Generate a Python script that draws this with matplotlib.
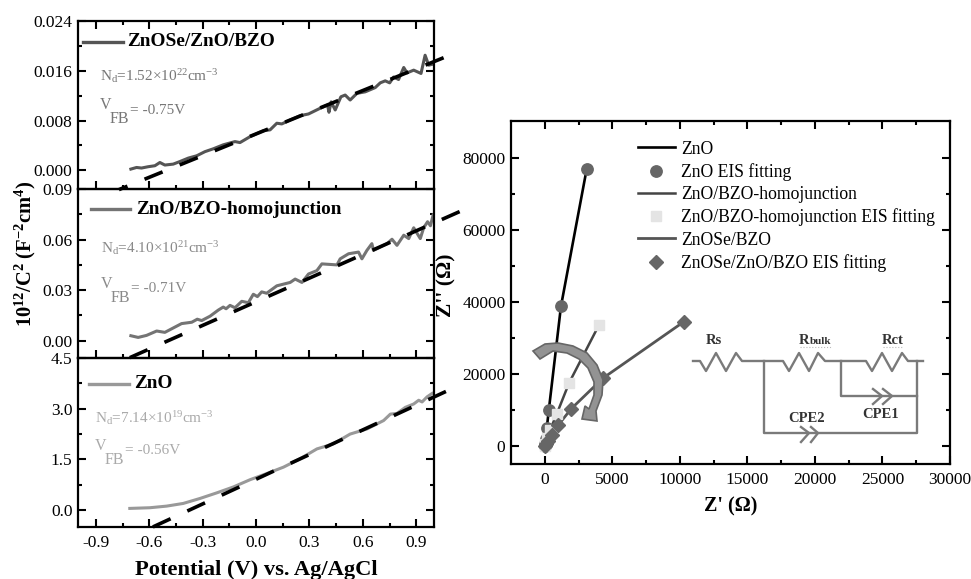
import matplotlib
matplotlib.use("Agg")
import matplotlib.pyplot as plt
from matplotlib.lines import Line2D
from matplotlib.patches import Polygon

plt.rcParams["font.family"] = ["Liberation Serif", "DejaVu Serif"]
plt.rcParams["mathtext.fontset"] = "custom"
plt.rcParams["mathtext.rm"] = "Liberation Serif"
plt.rcParams["mathtext.bf"] = "Liberation Serif:bold"
plt.rcParams["mathtext.it"] = "Liberation Serif:italic"

# Mott-Schottky curves
zse_x = [-0.703, -0.671, -0.643, -0.606, -0.568, -0.54, -0.512, -0.465, -0.427, -0.38, -0.333, -0.287,
         -0.24, -0.184, -0.118, -0.09, -0.033, 0.042, 0.079, 0.117, 0.145, 0.192, 0.248, 0.295, 0.36,
         0.402, 0.41, 0.422, 0.445, 0.477, 0.501, 0.529, 0.567, 0.614, 0.67, 0.698, 0.726, 0.751, 0.773,
         0.801, 0.83, 0.848, 0.886, 0.927, 0.95, 0.97, 1.0]
zse_y = [0.0002, 0.00046, 0.00037, 0.00058, 0.00074, 0.00126, 0.00085, 0.001, 0.00142, 0.00197, 0.00234, 0.003,
         0.00346, 0.0041, 0.00462, 0.00446, 0.00542, 0.00638, 0.0065, 0.00757, 0.00746, 0.0081, 0.00878, 0.00906, 0.00997,
         0.0105, 0.00933, 0.011, 0.0097, 0.01182, 0.0121, 0.0113, 0.01237, 0.01262, 0.0133, 0.01406, 0.01438, 0.01406, 0.015,
         0.0146, 0.01653, 0.01566, 0.0161, 0.01557, 0.0185, 0.0169, 0.0171]
zse_fit_x = [1.054, -0.77]
zse_fit_y = [0.0181, -0.0031]

hom_x = [-0.703, -0.662, -0.615, -0.558, -0.512, -0.418, -0.361, -0.33, -0.305, -0.258, -0.212, -0.184,
         -0.168, -0.146, -0.118, -0.08, -0.043, -0.015, 0.008, 0.032, 0.06, 0.117, 0.192, 0.22, 0.258,
         0.295, 0.342, 0.37, 0.455, 0.473, 0.52, 0.576, 0.595, 0.623, 0.651, 0.66, 0.736, 0.764, 0.792,
         0.83, 0.858, 0.886, 0.923, 0.942, 0.964, 0.98, 0.995]
hom_y = [0.003, 0.002, 0.0032, 0.0058, 0.005, 0.0102, 0.011, 0.0128, 0.012, 0.0146, 0.0182, 0.02,
         0.019, 0.021, 0.0196, 0.0234, 0.0226, 0.0276, 0.0262, 0.029, 0.0282, 0.0326, 0.0346, 0.0366, 0.0346,
         0.0396, 0.0416, 0.0456, 0.045, 0.0486, 0.0516, 0.0526, 0.0486, 0.0536, 0.0576, 0.0536, 0.0576, 0.0602, 0.0566,
         0.0626, 0.0606, 0.067, 0.0606, 0.067, 0.0706, 0.0682, 0.0746]
hom_fit_x = [1.144, -0.709]
hom_fit_y = [0.0766, -0.01]

zno_x = [-0.709, -0.596, -0.502, -0.409, -0.315, -0.221, -0.127, -0.033, 0.06, 0.154, 0.248, 0.342,
         0.435, 0.529, 0.623, 0.717, 0.755, 0.792, 0.839, 0.886, 0.914, 0.933, 0.961, 0.989]
zno_y = [0.05, 0.07, 0.118, 0.197, 0.344, 0.509, 0.685, 0.90, 1.08, 1.27, 1.52, 1.81,
         1.96, 2.25, 2.40, 2.65, 2.84, 2.86, 3.04, 3.14, 3.25, 3.20, 3.35, 3.45]
zno_fit_x = [1.067, -0.58]
zno_fit_y = [3.51, -0.5]

pot_ticks = [-0.9, -0.6, -0.3, 0.0, 0.3, 0.6, 0.9]
pot_labels = ["-0.9", "-0.6", "-0.3", "0.0", "0.3", "0.6", "0.9"]

# Nyquist points
eis_zno_re = [3100, 1200, 300, 150, 60, 20, 0]
eis_zno_im = [76800, 38800, 10000, 5000, 2000, 500, 0]
eis_hom_re = [4000, 1800, 900, 400, 200, 50, 0]
eis_hom_im = [33500, 17500, 9000, 4500, 2200, 500, 0]
eis_zse_re = [10300, 4300, 1950, 1000, 500, 250, 100, 0]
eis_zse_im = [34500, 18800, 10300, 5800, 3000, 1500, 500, 0]

W, H = 971, 579
fig = plt.figure(figsize=(W / 100, H / 100), dpi=100)


def px_axes(left, top, right, bottom):
    return fig.add_axes([left / W, 1 - bottom / H, (right - left) / W, (bottom - top) / H])


def style_axes(ax, top_ticks=False):
    for s in ax.spines.values():
        s.set_linewidth(1.6)
    ax.patch.set_visible(False)
    ax.tick_params(which="major", direction="in", length=5.5, width=1.5, labelsize=12.5, top=top_ticks, right=True, pad=4)
    ax.tick_params(which="minor", direction="in", length=3, width=1.5, top=top_ticks, right=True)
    ax.tick_params(axis="x", which="major", pad=6)


# --- left panels ---
panels = [
    (px_axes(78, 21, 434, 189), zse_x, zse_y, zse_fit_x, zse_fit_y, "#555555",
     (-0.003, 0.024), [0, 0.008, 0.016, 0.024], ["0.000", "0.008", "0.016", "0.024"], [0.004, 0.012, 0.02]),
    (px_axes(78, 189, 434, 358), hom_x, hom_y, hom_fit_x, hom_fit_y, "#747474",
     (-0.0102, 0.09), [0, 0.03, 0.06, 0.09], ["0.00", "0.03", "0.06", "0.09"], [0.015, 0.045, 0.075]),
    (px_axes(78, 358, 434, 527), zno_x, zno_y, zno_fit_x, zno_fit_y, "#999999",
     (-0.5, 4.5), [0, 1.5, 3.0, 4.5], ["0.0", "1.5", "3.0", "4.5"], [0.75, 2.25, 3.75]),
]
for i, (ax, x, y, fx, fy, col, ylim, yt, ylab, ym) in enumerate(panels):
    ax.plot(x, y, color=col, lw=2.2, solid_joinstyle="round")
    ax.plot(fx, fy, color="black", lw=2.6, linestyle=(0, (5.4, 5.1)), clip_on=False)
    ax.set_xlim(-1, 1)
    ax.set_ylim(*ylim)
    ax.set_yticks(yt)
    ax.set_yticklabels(ylab)
    ax.set_yticks(ym, minor=True)
    ax.set_xticks(pot_ticks)
    ax.set_xticks([-0.75, -0.45, -0.15, 0.15, 0.45, 0.75], minor=True)
    style_axes(ax, top_ticks=(i == 0))
    if i < 2:
        ax.set_xticklabels([])
    else:
        ax.set_xticklabels(pot_labels)
        ax.set_xlabel("Potential (V) vs. Ag/AgCl", fontsize=16.2, fontweight="bold", labelpad=6)

# --- Nyquist panel ---
ax = px_axes(511, 121, 950, 464)
ax.plot(eis_zno_re, eis_zno_im, color="black", lw=1.9)
ax.plot(eis_hom_re, eis_hom_im, color="#444444", lw=1.8)
ax.plot(eis_zse_re, eis_zse_im, color="#555555", lw=2.0)
ax.plot(eis_zno_re, eis_zno_im, "o", color="#666666", ms=8.2, ls="none")
ax.plot(eis_hom_re, eis_hom_im, "s", color="#e4e4e4", ms=7.2, ls="none")
ax.plot(eis_zse_re, eis_zse_im, "D", color="#666666", ms=7.4, ls="none")
ax.set_xlim(-2500, 30000)
ax.set_ylim(-5000, 90200)
ax.set_xticks(range(0, 30001, 5000))
ax.set_xticks(range(2500, 30000, 5000), minor=True)
ax.set_yticks(range(0, 80001, 20000))
ax.set_yticks(range(10000, 80000, 20000), minor=True)
style_axes(ax, top_ticks=True)
ax.set_xlabel("Z' (Ω)", fontsize=14.5, fontweight="bold", labelpad=6)
ax.set_ylabel("Z'' (Ω)", fontsize=15.5, fontweight="bold")
ax.yaxis.set_label_coords(-0.125, 0.522)

handles = [
    Line2D([], [], color="black", lw=1.9),
    Line2D([], [], marker="o", color="#666666", ms=8.2, ls="none"),
    Line2D([], [], color="#444444", lw=1.8),
    Line2D([], [], marker="s", color="#e4e4e4", ms=7.2, ls="none"),
    Line2D([], [], color="#555555", lw=2.0),
    Line2D([], [], marker="D", color="#666666", ms=7.4, ls="none"),
]
names = ["ZnO", "ZnO EIS fitting", "ZnO/BZO-homojunction", "ZnO/BZO-homojunction EIS fitting",
         "ZnOSe/BZO", "ZnOSe/ZnO/BZO EIS fitting"]
ax.legend(handles, names, loc="upper left", bbox_to_anchor=(0.281, 0.953), frameon=False, fontsize=12.7,
          labelspacing=0.3, handlelength=2.1, handletextpad=0.35, borderaxespad=0, borderpad=0.2)

# --- overlay in pixel coordinates: labels, arrow and circuit ---
ov = fig.add_axes([0, 0, 1, 1], zorder=5)
ov.set_xlim(0, W)
ov.set_ylim(H, 0)
ov.axis("off")

ov.text(25, 254, r"$\mathbf{10^{12}/C^{2}\ (F^{-2}cm^{4})}$", rotation=90, fontsize=14.8, ha="center", va="center")

labels = [
    ("ZnOSe/ZnO/BZO", 83, 123, 127, 42, "#555555"),
    ("ZnO/BZO-homojunction", 91, 130, 136, 209, "#747474"),
    ("ZnO", 89, 129, 134, 384, "#999999"),
]
for txt, x0, x1, tx, ty, col in labels:
    ov.plot([x0, x1], [ty, ty], color=col, lw=2.4)
    ov.text(tx, ty, txt, fontsize=13.9, fontweight="bold", va="center")

notes = [
    (r"N$_{\mathrm{d}}$=1.52×10$^{22}$cm$^{-3}$", -0.75, 100, 76, 34, "#777777"),
    (r"N$_{\mathrm{d}}$=4.10×10$^{21}$cm$^{-3}$", -0.71, 101, 248, 41, "#8a8a8a"),
    (r"N$_{\mathrm{d}}$=7.14×10$^{19}$cm$^{-3}$", -0.56, 95, 418, 33, "#aaaaaa"),
]
for txt, vfb, x, y, dy, col in notes:
    ov.text(x, y, txt, fontsize=11, color=col, va="center")
    vy = y + dy
    ov.text(x, vy - 5, "V", fontsize=11.5, color=col, va="center")
    ov.text(x + 10, vy + 9, "FB", fontsize=11.5, color=col, va="center")
    ov.text(x + 30, vy, f"= {vfb:.2f}V", fontsize=11, color=col, va="center")

# curved arrow outline
arrow_x = [533, 545, 558, 573, 587, 597, 603, 602, 596, 597, 582, 585, 589, 594, 594, 588, 579, 567, 553, 540]
arrow_y = [351, 344, 343, 346, 353, 365, 380, 395, 411, 421, 419, 406, 409, 395, 382, 368, 359, 353, 351, 359]
ov.add_patch(Polygon(list(zip(arrow_x, arrow_y)), closed=True, facecolor="#939393", edgecolor="#666666", lw=1.2))

# equivalent circuit
wire = "#7a7a7a"
ov.plot([693, 700, 706, 716, 726, 736, 742, 783, 789, 799, 809, 818, 825, 866, 872, 882, 892, 902, 908, 923],
        [361, 361, 371, 353, 371, 353, 361, 361, 371, 353, 371, 353, 361, 361, 371, 353, 371, 353, 361, 361],
        color=wire, lw=1.7)
ov.plot([764, 764, 917, 917], [361, 433, 433, 361], color=wire, lw=1.7)
ov.plot([841, 841, 917], [361, 396, 396], color=wire, lw=1.7)
ov.plot([873, 882, 873], [389, 396, 404], color=wire, lw=1.7)
ov.plot([883, 892, 883], [389, 396, 404], color=wire, lw=1.7)
ov.plot([801, 809, 801], [427, 433, 442], color=wire, lw=1.7)
ov.plot([811, 818, 811], [427, 433, 442], color=wire, lw=1.7)
parts = [("Rs", 714, 341), ("CPE2", 807, 418), ("CPE1", 881, 415), ("Rct", 893, 341)]
for txt, x, y in parts:
    ov.text(x, y, txt, fontsize=10.5, fontweight="bold", color="#333333", ha="center", va="center")
ov.text(799, 341, "R", fontsize=10.5, fontweight="bold", color="#333333", va="center")
ov.text(810, 342, "bulk", fontsize=8, fontweight="bold", color="#333333", va="center")
ov.plot([800, 832], [347, 347], color="#bbbbbb", lw=0.8, ls=":")
ov.plot([883, 903], [347, 347], color="#bbbbbb", lw=0.8, ls=":")

fig.savefig("out.png", dpi=100)
